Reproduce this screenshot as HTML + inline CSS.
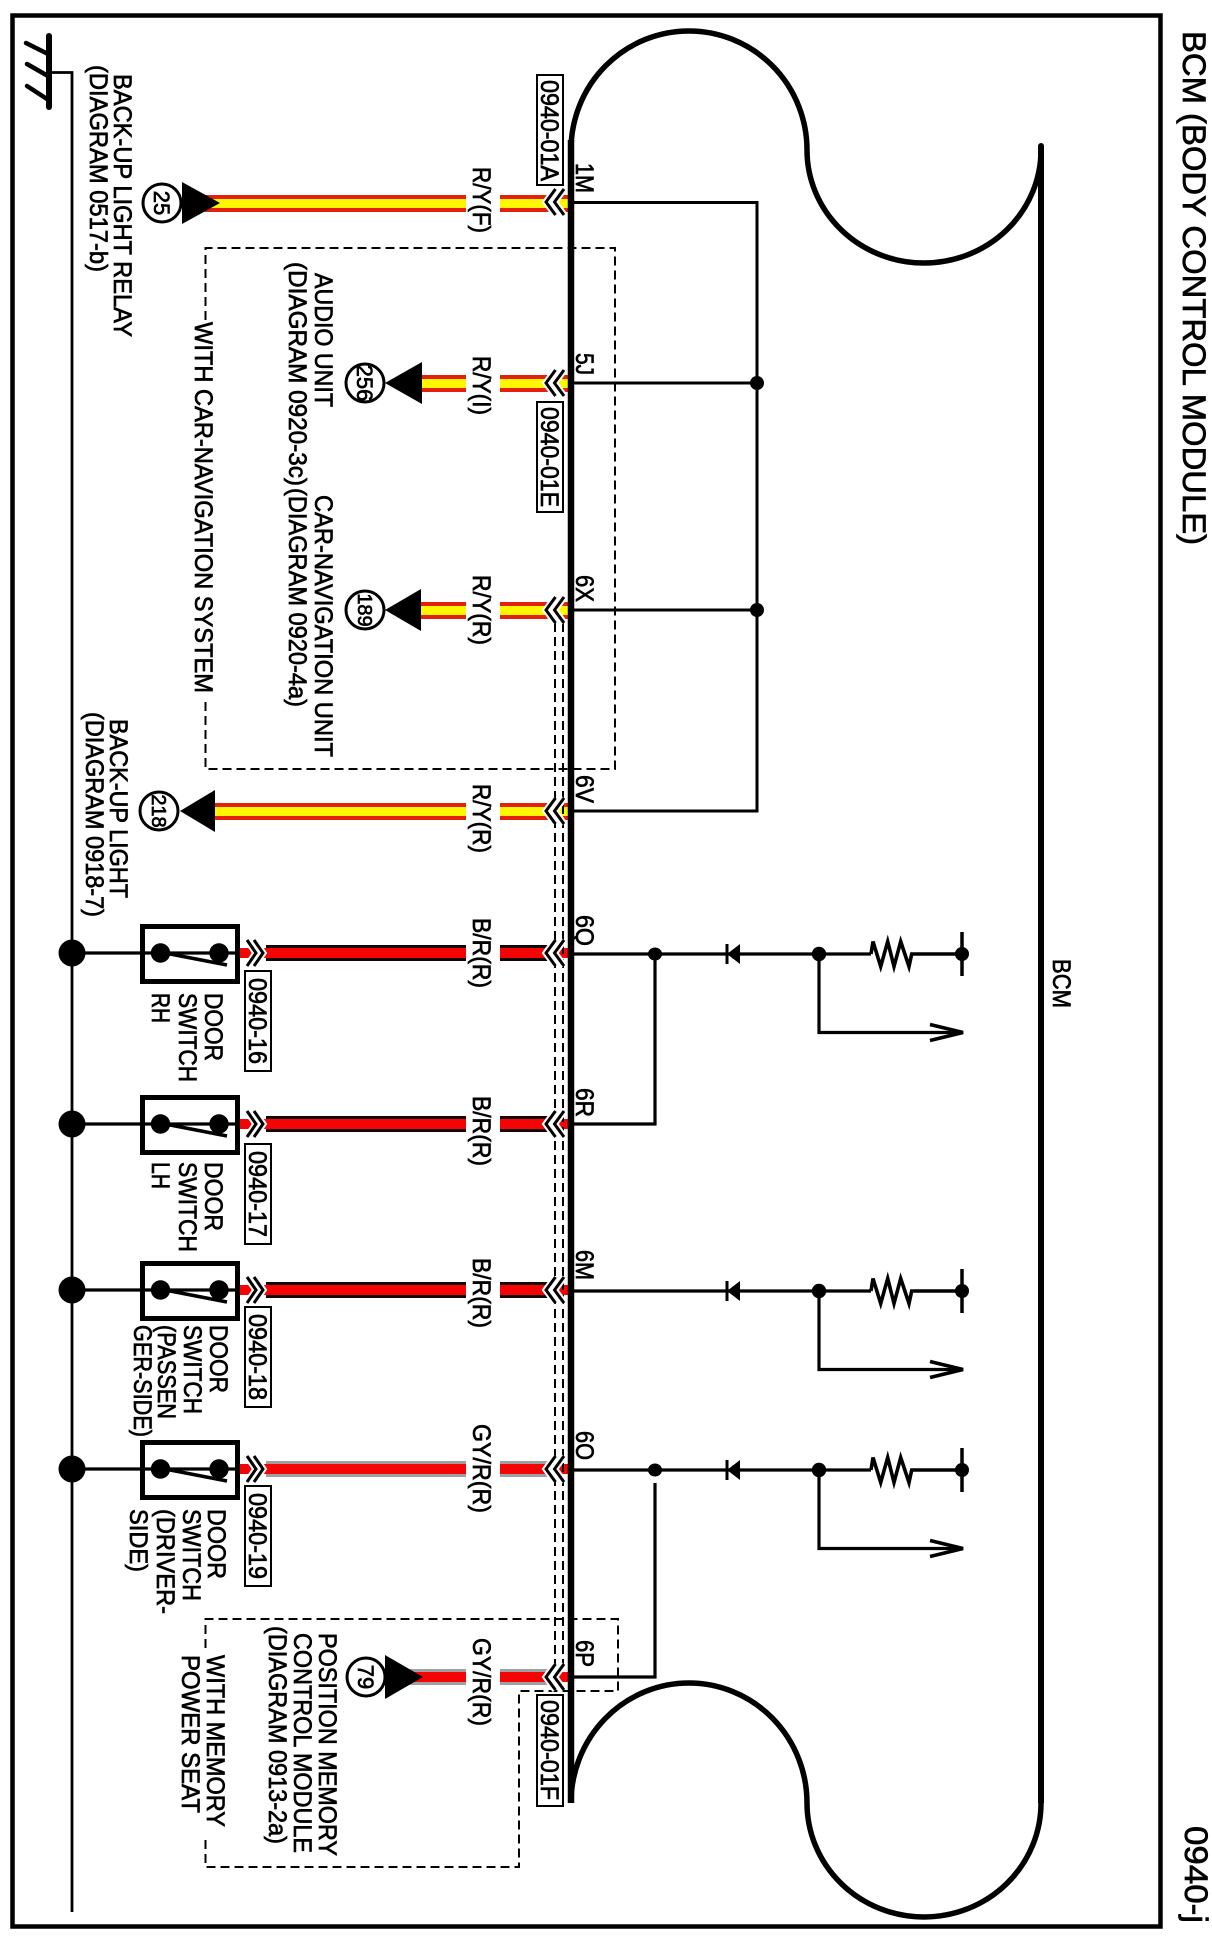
<!DOCTYPE html>
<html><head><meta charset="utf-8"><title>BCM (Body Control Module) 0940-j</title>
<style>
html,body{margin:0;padding:0;background:#fff}
svg{display:block}
text{font-family:"Liberation Sans",sans-serif;font-size:25px;fill:#000;stroke:#000;stroke-width:.7px}
.n{font-size:22px}
.m{font-size:20px}
.t{font-size:32px;stroke-width:.7px}
</style></head><body>
<svg width="1212" height="1944" viewBox="0 0 1212 1944" xmlns="http://www.w3.org/2000/svg">
<defs>
<g id="chevIn" fill="none"><g stroke="#fff" stroke-width="7"><polyline points="555.5,-13 546,0 555.5,13"/><polyline points="564,-13 554.5,0 564,13"/></g><g stroke="#000" stroke-width="3"><polyline points="555.5,-13 546,0 555.5,13"/><polyline points="564,-13 554.5,0 564,13"/></g></g>
<g id="chevOut" fill="none"><g stroke="#fff" stroke-width="7"><polyline points="247,-13 256,0 247,13"/><polyline points="254,-13 263,0 254,13"/></g><g stroke="#000" stroke-width="3"><polyline points="247,-13 256,0 247,13"/><polyline points="254,-13 263,0 254,13"/></g></g>
<g id="sw">
<line x1="72" y1="0" x2="240" y2="0" stroke="#000" stroke-width="3.2"/>
<circle cx="72" cy="0" r="13.5" fill="#000"/>
<rect x="142.5" y="-26.5" width="95" height="55" fill="none" stroke="#000" stroke-width="5"/>
<circle cx="160.5" cy="0" r="9.7" fill="#000"/>
<circle cx="219" cy="0" r="9.7" fill="#000"/>
<line x1="165" y1="0" x2="227" y2="12" stroke="#000" stroke-width="3.5"/>
</g>
<g id="branch" fill="none" stroke="#000" stroke-width="3.2">
<line x1="574" y1="0" x2="871" y2="0"/>
<polygon points="727,0 740,-10 740,10" fill="#000" stroke="none"/>
<line x1="727" y1="-10" x2="727" y2="10" stroke-width="3"/>
<circle cx="819" cy="0" r="7.2" fill="#000" stroke="none"/>
<polyline stroke-width="3.6" points="871,0 873,-12.5 880.7,12.5 887.7,-12.5 894,12.5 900.7,-12.5 909,12.5 911.7,0 962,0"/>
<line x1="962" y1="-22" x2="962" y2="22" stroke-width="3.5"/>
<circle cx="962" cy="0" r="7" fill="#000" stroke="none"/>
<polyline points="819,0 819,78.5 963,78.5"/>
<polyline points="930,70.5 963,78.5 930,86.5" stroke-width="3.6"/>
</g>
</defs>

<!-- frame -->
<rect x="12.5" y="15.5" width="1148" height="1911" fill="none" stroke="#000" stroke-width="4.5"/>

<!-- BCM outline -->
<path d="M571 150 A118 119 0 0 1 807 150 A117 113 0 0 0 1041 150" fill="none" stroke="#000" stroke-width="5.5"/>
<path d="M571 1803 A118 120 0 0 1 807 1803 A117 114 0 0 0 1041 1803" fill="none" stroke="#000" stroke-width="5.5"/>
<line x1="1041" y1="146" x2="1041" y2="1803" stroke="#000" stroke-width="6"/>
<circle cx="1041" cy="146" r="3" fill="#000"/>

<!-- ground -->
<line x1="49" y1="36" x2="49" y2="107" stroke="#000" stroke-width="6" stroke-linecap="round"/>
<g stroke="#000" stroke-width="4.5" stroke-linecap="round"><line x1="26" y1="43" x2="48" y2="54"/><line x1="27" y1="64" x2="48" y2="76"/><line x1="27" y1="86" x2="47" y2="99"/></g>
<polyline points="49,72.5 72,72.5 72,1912" fill="none" stroke="#000" stroke-width="2.8"/>

<!-- internal wiring top -->
<g fill="none" stroke="#000" stroke-width="3">
<polyline points="574,202.5 757,202.5 757,811 574,811"/>
<line x1="574" y1="383" x2="757" y2="383"/>
<line x1="574" y1="610" x2="757" y2="610"/>
</g>
<circle cx="757" cy="383" r="7" fill="#000"/><circle cx="757" cy="610" r="7" fill="#000"/>

<!-- internal wiring bottom -->
<use href="#branch" y="954"/>
<use href="#branch" y="1291"/>
<use href="#branch" y="1470"/>
<ellipse cx="655" cy="954" rx="7" ry="6.5" fill="#000"/>
<ellipse cx="655" cy="1470" rx="7" ry="6.5" fill="#000"/>
<polyline points="655,954 655,1124 574,1124" fill="none" stroke="#000" stroke-width="3.2"/>
<polyline points="655,1483 655,1677 574,1677" fill="none" stroke="#000" stroke-width="3.2"/>

<!-- wires R/Y -->
<g fill="#e2200c">
<rect x="200" y="195" width="266" height="17"/><rect x="500" y="195" width="70" height="17"/>
<rect x="410" y="375" width="56" height="17"/><rect x="500" y="375" width="70" height="17"/>
<rect x="410" y="602" width="56" height="17"/><rect x="500" y="602" width="70" height="17"/>
<rect x="205" y="803" width="261" height="17"/><rect x="500" y="803" width="70" height="17"/>
</g>
<g fill="#fff700">
<rect x="200" y="199" width="266" height="9"/><rect x="500" y="199" width="70" height="9"/>
<rect x="410" y="379" width="56" height="9"/><rect x="500" y="379" width="70" height="9"/>
<rect x="410" y="606" width="56" height="9"/><rect x="500" y="606" width="70" height="9"/>
<rect x="205" y="807" width="261" height="9"/><rect x="500" y="807" width="70" height="9"/>
</g>

<!-- wires B/R -->
<g fill="#140404">
<rect x="266" y="945" width="200" height="16"/><rect x="500" y="945" width="60" height="16"/>
<rect x="266" y="1116" width="200" height="16"/><rect x="500" y="1116" width="60" height="16"/>
<rect x="266" y="1282" width="200" height="16"/><rect x="500" y="1282" width="60" height="16"/>
</g>
<!-- wires GY/R -->
<g fill="#a0a0a0">
<rect x="266" y="1461" width="200" height="16"/><rect x="500" y="1461" width="60" height="16"/>
<rect x="410" y="1669" width="56" height="16"/><rect x="500" y="1669" width="60" height="16"/>
</g>
<g fill="#f40404">
<rect x="240" y="948" width="226" height="10"/><rect x="500" y="948" width="70" height="10"/>
<rect x="240" y="1119" width="226" height="10"/><rect x="500" y="1119" width="70" height="10"/>
<rect x="240" y="1285" width="226" height="10"/><rect x="500" y="1285" width="70" height="10"/>
<rect x="240" y="1464" width="226" height="10"/><rect x="500" y="1464" width="70" height="10"/>
<rect x="410" y="1672" width="56" height="10"/><rect x="500" y="1672" width="70" height="10"/>
</g>

<!-- triangles + circles -->
<g fill="#000">
<polygon points="182,182 220,203 182,224"/>
<polygon points="385,383 422,362 422,404"/>
<polygon points="385,610 421,589 421,631"/>
<polygon points="180,811 215,790 215,832"/>
<polygon points="385,1655 423,1677 385,1699"/>
</g>
<g fill="#fff" stroke="#000" stroke-width="3">
<circle cx="162" cy="203" r="19"/>
<circle cx="365" cy="383" r="19"/>
<circle cx="365" cy="610" r="19"/>
<circle cx="159" cy="811" r="19"/>
<circle cx="366" cy="1677" r="19"/>
</g>
<text class="n" text-anchor="middle" transform="translate(154,203) rotate(90)">25</text>
<text class="n" text-anchor="middle" transform="translate(357,383) rotate(90)">256</text>
<text class="m" text-anchor="middle" transform="translate(358,610) rotate(90)">189</text>
<text class="m" text-anchor="middle" transform="translate(152,811) rotate(90)">218</text>
<text class="n" text-anchor="middle" transform="translate(358,1677) rotate(90)">79</text>

<!-- switches -->
<use href="#sw" y="953"/><use href="#sw" y="1124"/><use href="#sw" y="1290"/><use href="#sw" y="1469"/>

<!-- dashed -->
<g fill="none" stroke="#000" stroke-width="2" stroke-dasharray="9 5">
<line x1="555" y1="623" x2="555" y2="1664"/><line x1="563" y1="623" x2="563" y2="1664"/>
<polyline points="205.5,320 205.5,248 615,248 615,769 205.5,769 205.5,697"/>
<polyline points="205.5,1648 205.5,1619 618,1619 618,1691 519,1691 519,1867 205.5,1867 205.5,1836"/>
</g>

<!-- bus -->
<line x1="571" y1="140" x2="571" y2="1803" stroke="#000" stroke-width="6.5"/>

<!-- chevrons -->
<use href="#chevIn" y="202"/><use href="#chevIn" y="383"/><use href="#chevIn" y="610"/><use href="#chevIn" y="811"/>
<use href="#chevIn" y="953"/><use href="#chevIn" y="1124"/><use href="#chevIn" y="1290"/><use href="#chevIn" y="1469"/><use href="#chevIn" y="1677"/>
<use href="#chevOut" y="953"/><use href="#chevOut" y="1124"/><use href="#chevOut" y="1290"/><use href="#chevOut" y="1469"/>

<!-- connector label boxes -->
<g fill="#fff" stroke="#000" stroke-width="2">
<rect x="537" y="75" width="26" height="110"/>
<rect x="537" y="402" width="26" height="110"/>
<rect x="537" y="1695" width="26" height="111"/>
<rect x="245" y="971" width="26" height="100"/>
<rect x="245" y="1144" width="26" height="100"/>
<rect x="245" y="1307" width="26" height="100"/>
<rect x="245" y="1486" width="26" height="100"/>
</g>
<text transform="translate(541,80) rotate(90)" textLength="101" lengthAdjust="spacingAndGlyphs">0940-01A</text>
<text transform="translate(541,407) rotate(90)" textLength="100" lengthAdjust="spacingAndGlyphs">0940-01E</text>
<text transform="translate(541,1700) rotate(90)" textLength="100" lengthAdjust="spacingAndGlyphs">0940-01F</text>
<text transform="translate(249,978) rotate(90)" textLength="86" lengthAdjust="spacingAndGlyphs">0940-16</text>
<text transform="translate(249,1151) rotate(90)" textLength="86" lengthAdjust="spacingAndGlyphs">0940-17</text>
<text transform="translate(249,1314) rotate(90)" textLength="86" lengthAdjust="spacingAndGlyphs">0940-18</text>
<text transform="translate(249,1493) rotate(90)" textLength="86" lengthAdjust="spacingAndGlyphs">0940-19</text>

<!-- pin labels -->
<text transform="translate(576,163) rotate(90)" textLength="30" lengthAdjust="spacingAndGlyphs">1M</text>
<text transform="translate(576,353) rotate(90)" textLength="22" lengthAdjust="spacingAndGlyphs">5J</text>
<text transform="translate(576,575) rotate(90)" textLength="27" lengthAdjust="spacingAndGlyphs">6X</text>
<text transform="translate(576,775) rotate(90)" textLength="28" lengthAdjust="spacingAndGlyphs">6V</text>
<text transform="translate(576,915) rotate(90)" textLength="31" lengthAdjust="spacingAndGlyphs">6Q</text>
<text transform="translate(576,1088) rotate(90)" textLength="29" lengthAdjust="spacingAndGlyphs">6R</text>
<text transform="translate(576,1250) rotate(90)" textLength="30" lengthAdjust="spacingAndGlyphs">6M</text>
<text transform="translate(576,1431) rotate(90)" textLength="29" lengthAdjust="spacingAndGlyphs">6O</text>
<text transform="translate(576,1640) rotate(90)" textLength="27" lengthAdjust="spacingAndGlyphs">6P</text>

<!-- wire labels -->
<text transform="translate(473,167) rotate(90)" textLength="66" lengthAdjust="spacingAndGlyphs">R/Y(F)</text>
<text transform="translate(473,356) rotate(90)" textLength="59" lengthAdjust="spacingAndGlyphs">R/Y(I)</text>
<text transform="translate(473,575) rotate(90)" textLength="70" lengthAdjust="spacingAndGlyphs">R/Y(R)</text>
<text transform="translate(473,784) rotate(90)" textLength="69" lengthAdjust="spacingAndGlyphs">R/Y(R)</text>
<text transform="translate(473,918) rotate(90)" textLength="70" lengthAdjust="spacingAndGlyphs">B/R(R)</text>
<text transform="translate(473,1096) rotate(90)" textLength="70" lengthAdjust="spacingAndGlyphs">B/R(R)</text>
<text transform="translate(473,1258) rotate(90)" textLength="70" lengthAdjust="spacingAndGlyphs">B/R(R)</text>
<text transform="translate(473,1424) rotate(90)" textLength="89" lengthAdjust="spacingAndGlyphs">GY/R(R)</text>
<text transform="translate(473,1638) rotate(90)" textLength="88" lengthAdjust="spacingAndGlyphs">GY/R(R)</text>

<!-- component labels -->
<text transform="translate(114,74) rotate(90)" textLength="263" lengthAdjust="spacingAndGlyphs">BACK-UP LIGHT RELAY</text>
<text transform="translate(90,65) rotate(90)" textLength="207" lengthAdjust="spacingAndGlyphs">(DIAGRAM 0517-b)</text>
<text transform="translate(315,273) rotate(90)" textLength="134" lengthAdjust="spacingAndGlyphs">AUDIO UNIT</text>
<text transform="translate(289,262) rotate(90)" textLength="224" lengthAdjust="spacingAndGlyphs">(DIAGRAM 0920-3c)</text>
<text transform="translate(315,495) rotate(90)" textLength="262" lengthAdjust="spacingAndGlyphs">CAR-NAVIGATION UNIT</text>
<text transform="translate(289,488) rotate(90)" textLength="219" lengthAdjust="spacingAndGlyphs">(DIAGRAM 0920-4a)</text>
<text transform="translate(195,322) rotate(90)" textLength="371" lengthAdjust="spacingAndGlyphs">WITH CAR-NAVIGATION SYSTEM</text>
<text transform="translate(110,719) rotate(90)" textLength="179" lengthAdjust="spacingAndGlyphs">BACK-UP LIGHT</text>
<text transform="translate(86,712) rotate(90)" textLength="205" lengthAdjust="spacingAndGlyphs">(DIAGRAM 0918-7)</text>

<text transform="translate(205,993) rotate(90)" textLength="68" lengthAdjust="spacingAndGlyphs">DOOR</text>
<text transform="translate(179,993) rotate(90)" textLength="89" lengthAdjust="spacingAndGlyphs">SWITCH</text>
<text transform="translate(152,993) rotate(90)" textLength="30" lengthAdjust="spacingAndGlyphs">RH</text>

<text transform="translate(205,1162) rotate(90)" textLength="69" lengthAdjust="spacingAndGlyphs">DOOR</text>
<text transform="translate(179,1162) rotate(90)" textLength="90" lengthAdjust="spacingAndGlyphs">SWITCH</text>
<text transform="translate(152,1162) rotate(90)" textLength="27" lengthAdjust="spacingAndGlyphs">LH</text>

<text transform="translate(210,1325) rotate(90)" textLength="68" lengthAdjust="spacingAndGlyphs">DOOR</text>
<text transform="translate(184,1325) rotate(90)" textLength="89" lengthAdjust="spacingAndGlyphs">SWITCH</text>
<text transform="translate(158,1325) rotate(90)" textLength="94" lengthAdjust="spacingAndGlyphs">(PASSEN</text>
<text transform="translate(134,1325) rotate(90)" textLength="112" lengthAdjust="spacingAndGlyphs">GER-SIDE)</text>

<text transform="translate(208,1509) rotate(90)" textLength="70" lengthAdjust="spacingAndGlyphs">DOOR</text>
<text transform="translate(183,1509) rotate(90)" textLength="92" lengthAdjust="spacingAndGlyphs">SWITCH</text>
<text transform="translate(157,1509) rotate(90)" textLength="105" lengthAdjust="spacingAndGlyphs">(DRIVER-</text>
<text transform="translate(130,1509) rotate(90)" textLength="63" lengthAdjust="spacingAndGlyphs">SIDE)</text>

<text transform="translate(319,1633) rotate(90)" textLength="223" lengthAdjust="spacingAndGlyphs">POSITION MEMORY</text>
<text transform="translate(294,1633) rotate(90)" textLength="220" lengthAdjust="spacingAndGlyphs">CONTROL MODULE</text>
<text transform="translate(269,1626) rotate(90)" textLength="218" lengthAdjust="spacingAndGlyphs">(DIAGRAM 0913-2a)</text>
<text transform="translate(207,1655) rotate(90)" textLength="172" lengthAdjust="spacingAndGlyphs">WITH MEMORY</text>
<text transform="translate(182,1655) rotate(90)" textLength="158" lengthAdjust="spacingAndGlyphs">POWER SEAT</text>

<text transform="translate(1053,959) rotate(90)" textLength="49" lengthAdjust="spacingAndGlyphs">BCM</text>
<text class="t" transform="translate(1183,31) rotate(90)" textLength="514" lengthAdjust="spacingAndGlyphs">BCM (BODY CONTROL MODULE)</text>
<text class="t" transform="translate(1185,1826) rotate(90)" textLength="97" lengthAdjust="spacingAndGlyphs">0940-j</text>
</svg>
</body></html>
